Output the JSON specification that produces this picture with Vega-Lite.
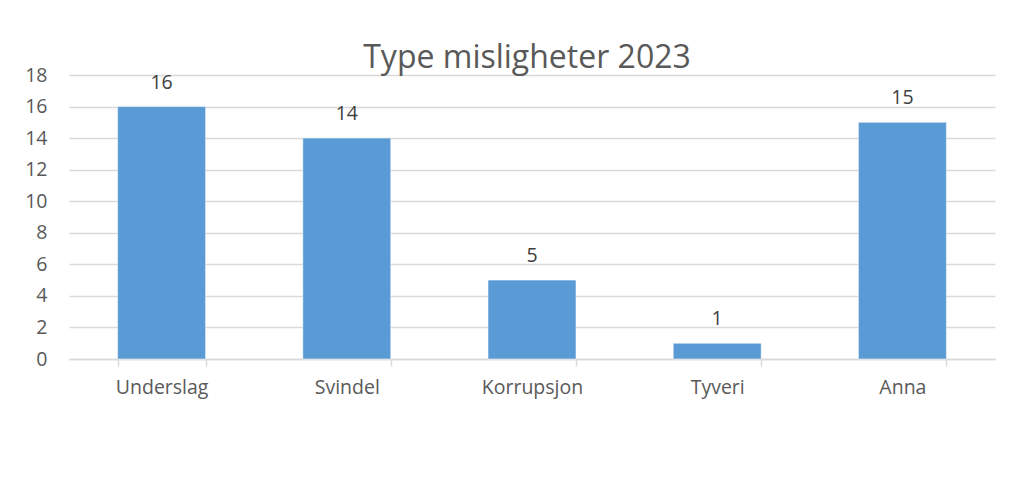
{
  "$schema": "https://vega.github.io/schema/vega-lite/v6.json",
  "autosize": {"type": "none"},
  "width": 926,
  "height": 284,
  "padding": {"left": 69, "top": 75, "right": 38, "bottom": 126},
  "background": "white",
  "data": {"values": [
    {"type": "Underslag", "count": 16},
    {"type": "Svindel", "count": 14},
    {"type": "Korrupsjon", "count": 5},
    {"type": "Tyveri", "count": 1},
    {"type": "Anna", "count": 15}
  ]},
  "title": {
    "text": "Type misligheter 2023",
    "fontSize": 32,
    "font": "Open Sans",
    "fontWeight": "normal",
    "color": "#595959",
    "anchor": "middle",
    "offset": -10,
    "dx": -5
  },
  "config": {
    "view": {"stroke": null},
    "font": "Open Sans"
  },
  "encoding": {
    "x": {
      "field": "type", "type": "nominal", "sort": null,
      "scale": {"paddingInner": 0.525, "paddingOuter": 0.2625},
      "axis": {
        "title": null, "labelAngle": 0, "tickBand": "extent",
        "domainColor": "#d9d9d9", "domainWidth": 1.5,
        "tickColor": "#d9d9d9", "tickWidth": 1.5, "tickSize": 7,
        "labelFontSize": 19.5, "labelColor": "#595959", "labelPadding": 12,
        "grid": false
      }
    },
    "y": {
      "field": "count", "type": "quantitative",
      "scale": {"domain": [0, 18], "nice": false},
      "axis": {
        "title": null, "values": [0, 2, 4, 6, 8, 10, 12, 14, 16, 18],
        "domain": false, "ticks": false,
        "gridColor": "#d9d9d9", "gridWidth": 1.5,
        "labelFontSize": 19.5, "labelColor": "#595959", "labelPadding": 22
      }
    }
  },
  "layer": [
    {"mark": {"type": "bar", "color": "#5B9BD5", "stroke": "white", "strokeWidth": 0.5}},
    {"mark": {"type": "text", "baseline": "bottom", "dy": -14, "fontSize": 19.5, "color": "#404040"},
     "encoding": {"text": {"field": "count", "type": "quantitative"}}}
  ]
}
